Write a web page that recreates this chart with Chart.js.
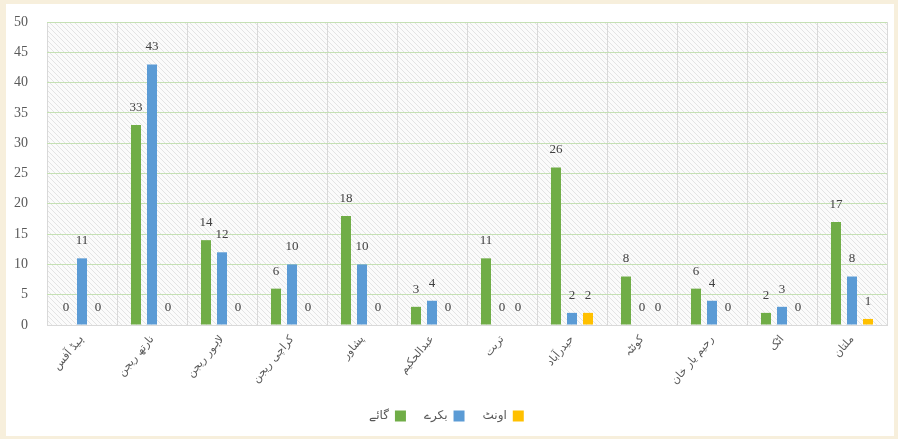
<!DOCTYPE html>
<html><head><meta charset="utf-8">
<script src="https://cdn.jsdelivr.net/npm/chart.js@4.4.1/dist/chart.umd.min.js"></script>
<style>
html,body{margin:0;padding:0;background:#f7efdc;width:898px;height:439px;overflow:hidden}
#wrap{position:absolute;left:6px;top:4px;width:888px;height:432px;background:#fff}
</style></head><body>
<div id="wrap"><canvas id="c" width="888" height="432"></canvas></div>
<script>
const categories = ["ہیڈ آفس","نارتھ ریجن","لاہور ریجن","کراچی ریجن","پشاور","عبدالحکیم","تربت","حیدرآباد","کوئٹہ","رحیم یار خان","اٹک","ملتان"];
const cows = [0,33,14,6,18,3,11,26,8,6,2,17];
const goats = [11,43,12,10,10,4,0,2,0,4,3,8];
const camels = [0,0,0,0,0,0,0,2,0,0,0,1];
const seriesNames = ["گائے","بکرے","اونٹ"];
const yTicks = [0,5,10,15,20,25,30,35,40,45,50];

function makeHatch(){
  const p = document.createElement('canvas'); p.width = 5; p.height = 5;
  const g = p.getContext('2d');
  g.fillStyle = '#fbfbfb'; g.fillRect(0,0,5,5);
  g.strokeStyle = '#e4e4e4'; g.lineWidth = 1;
  g.beginPath();
  g.moveTo(0,0); g.lineTo(5,5);
  g.moveTo(-2.5,2.5); g.lineTo(2.5,7.5);
  g.moveTo(2.5,-2.5); g.lineTo(7.5,2.5);
  g.stroke();
  return p;
}
const hatchPlugin = {
  id:'hatch',
  beforeDraw(chart){
    const {ctx, chartArea:a} = chart;
    ctx.save();
    ctx.fillStyle = ctx.createPattern(makeHatch(),'repeat');
    ctx.fillRect(a.left,a.top,a.right-a.left,a.bottom-a.top);
    ctx.restore();
  }
};
const labelPlugin = {
  id:'vals',
  afterDatasetsDraw(chart){
    const ctx = chart.ctx;
    ctx.save();
    ctx.font = '13px "Liberation Serif", serif';
    ctx.fillStyle = '#404040';
    ctx.textAlign = 'center';
    ctx.textBaseline = 'bottom';
    chart.data.datasets.forEach((ds,i)=>{
      chart.getDatasetMeta(i).data.forEach((bar,j)=>{
        ctx.fillText(String(ds.data[j]), bar.x, bar.y - 11);
      });
    });
    ctx.restore();
  }
};

new Chart(document.getElementById('c'),{
  type:'bar',
  data:{
    labels: categories,
    datasets:[
      {label:seriesNames[0], data:cows, backgroundColor:'#70ad47'},
      {label:seriesNames[1], data:goats, backgroundColor:'#5b9bd5'},
      {label:seriesNames[2], data:camels, backgroundColor:'#ffc000'}
    ]
  },
  options:{
    responsive:false, animation:false,
    layout:{padding:{top:18,right:7,left:0,bottom:4}},
    datasets:{bar:{categoryPercentage:0.686, barPercentage:0.625}},
    plugins:{
      tooltip:{enabled:false},
      legend:{
        position:'bottom', rtl:true, reverse:true,
        labels:{boxWidth:11, boxHeight:11, padding:18, color:'#595959',
          font:{family:'"DejaVu Sans", sans-serif', size:12}}
      }
    },
    scales:{
      x:{
        grid:{color:'#d9d9d9', drawTicks:false, offset:true},
        border:{color:'#d9d9d9'},
        ticks:{maxRotation:50, minRotation:50, padding:8, color:'#595959',
          font:{family:'"DejaVu Sans", sans-serif', size:11}},
        afterFit(s){ s.height = 67; s.paddingTop = 0; s.paddingBottom = 0; s.paddingLeft = 0; s.paddingRight = 0; }
      },
      y:{
        min:0, max:50,
        afterBuildTicks(s){ s.ticks = yTicks.map(v=>({value:v})); },
        grid:{color:(c)=> c.tick && c.tick.value===0 ? '#d9d9d9' : '#c5e0b4', drawTicks:false},
        border:{display:false},
        ticks:{padding:19, color:'#595959', font:{family:'"Liberation Serif", serif', size:14}},
        afterFit(s){ s.width = 41; s.paddingTop = 0; s.paddingBottom = 0; }
      }
    }
  },
  plugins:[hatchPlugin,labelPlugin]
});
</script></body></html>
